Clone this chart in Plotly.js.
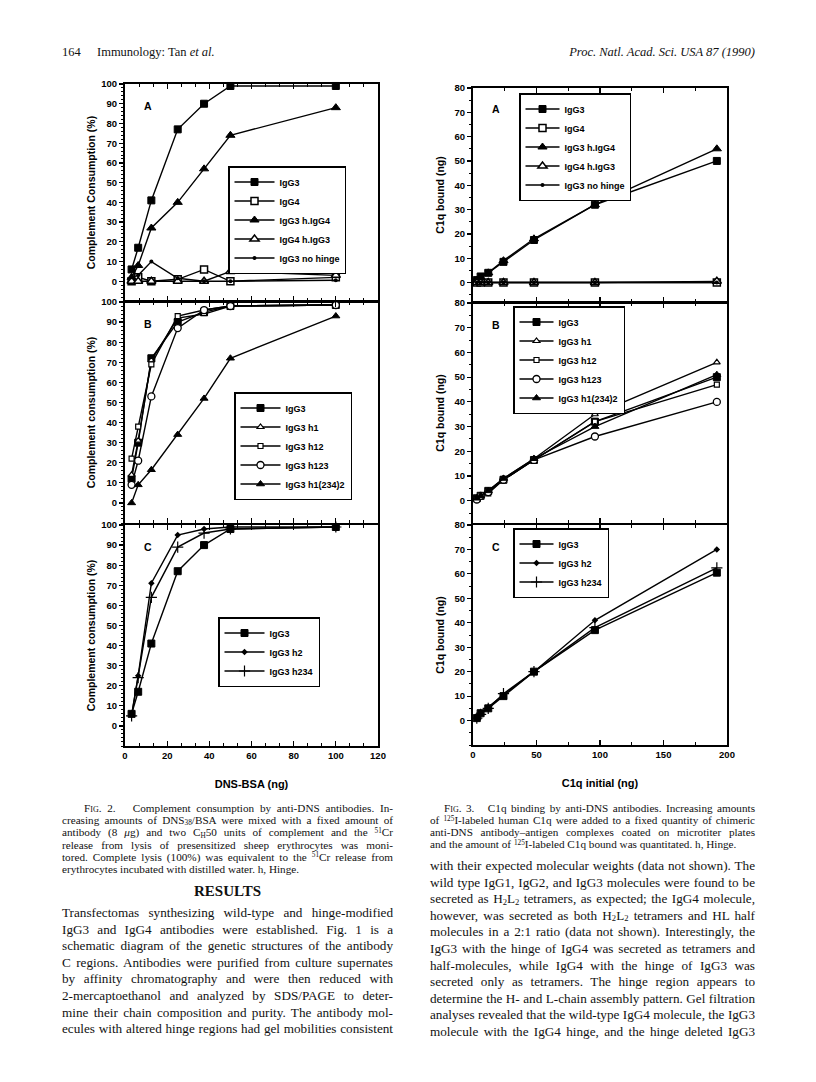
<!DOCTYPE html>
<html><head><meta charset="utf-8">
<script src="https://cdn.plot.ly/plotly-3.0.1.min.js"></script>
<style>
html,body{margin:0;padding:0;background:#fff;}
#page{position:relative;width:816px;height:1082px;overflow:hidden;background:#fff;}
#plot{position:absolute;left:0;top:0;width:816px;height:1082px;}
.t{position:absolute;font-family:"Liberation Serif","Times New Roman",serif;color:#111;white-space:nowrap;z-index:5;}
.ln{display:block;text-align:justify;text-align-last:justify;white-space:normal;}
.ll{display:block;text-align:left;}
.cap{font-size:11.2px;line-height:12px;}
.body{font-size:13.2px;line-height:16.6px;}
.sc{font-variant:small-caps;}
sub,sup{font-size:65%;line-height:1;vertical-align:baseline;position:relative;}
sup{top:-0.45em;}
sub{top:0.2em;}
</style></head>
<body><div id="page"><div id="plot"></div>
<div class="t" style="left:62px;top:45px;font-size:12.5px;">164</div>
<div class="t" style="left:97px;top:45px;font-size:12.5px;">Immunology: Tan <i>et al.</i></div>
<div class="t" style="left:497px;top:45px;font-size:12.5px;width:258px;text-align:right;"><i>Proc. Natl. Acad. Sci. USA 87 (1990)</i></div>

<div class="t cap" style="left:62px;top:802px;width:331px;">
<span class="ln" style="padding-left:22px;"><span class="sc">Fig.</span> 2.&nbsp;&nbsp; Complement consumption by anti-DNS antibodies. In-</span>
<span class="ln">creasing amounts of DNS<sub>38</sub>/BSA were mixed with a fixed amount of</span>
<span class="ln">antibody (8 <i>μ</i>g) and two C<sub>H</sub>50 units of complement and the <sup>51</sup>Cr</span>
<span class="ln">release from lysis of presensitized sheep erythrocytes was moni-</span>
<span class="ln">tored. Complete lysis (100%) was equivalent to the <sup>51</sup>Cr release from</span>
<span class="ll">erythrocytes incubated with distilled water. h, Hinge.</span>
</div>
<div class="t" style="left:62px;top:883px;width:331px;text-align:center;font-size:15px;font-weight:bold;">RESULTS</div>
<div class="t body" style="left:62px;top:905px;width:331px;">
<span class="ln">Transfectomas synthesizing wild-type and hinge-modified</span>
<span class="ln">IgG3 and IgG4 antibodies were established. Fig. 1 is a</span>
<span class="ln">schematic diagram of the genetic structures of the antibody</span>
<span class="ln">C regions. Antibodies were purified from culture supernates</span>
<span class="ln">by affinity chromatography and were then reduced with</span>
<span class="ln">2-mercaptoethanol and analyzed by SDS/PAGE to deter-</span>
<span class="ln">mine their chain composition and purity. The antibody mol-</span>
<span class="ln">ecules with altered hinge regions had gel mobilities consistent</span>
</div>

<div class="t cap" style="left:430px;top:802px;width:325px;">
<span class="ln" style="padding-left:14px;"><span class="sc">Fig.</span> 3.&nbsp;&nbsp; C1q binding by anti-DNS antibodies. Increasing amounts</span>
<span class="ln">of <sup>125</sup>I-labeled human C1q were added to a fixed quantity of chimeric</span>
<span class="ln">anti-DNS antibody–antigen complexes coated on microtiter plates</span>
<span class="ll">and the amount of <sup>125</sup>I-labeled C1q bound was quantitated. h, Hinge.</span>
</div>
<div class="t body" style="left:430px;top:858px;width:325px;">
<span class="ln">with their expected molecular weights (data not shown). The</span>
<span class="ln">wild type IgG1, IgG2, and IgG3 molecules were found to be</span>
<span class="ln">secreted as H<sub>2</sub>L<sub>2</sub> tetramers, as expected; the IgG4 molecule,</span>
<span class="ln">however, was secreted as both H<sub>2</sub>L<sub>2</sub> tetramers and HL half</span>
<span class="ln">molecules in a 2:1 ratio (data not shown). Interestingly, the</span>
<span class="ln">IgG3 with the hinge of IgG4 was secreted as tetramers and</span>
<span class="ln">half-molecules, while IgG4 with the hinge of IgG3 was</span>
<span class="ln">secreted only as tetramers. The hinge region appears to</span>
<span class="ln">determine the H- and L-chain assembly pattern. Gel filtration</span>
<span class="ln">analyses revealed that the wild-type IgG4 molecule, the IgG3</span>
<span class="ln">molecule with the IgG4 hinge, and the hinge deleted IgG3</span>
</div>
</div>
<script>
// ---------- DATA ----------
// Fig. 2 : complement consumption (%) vs DNS-BSA (ng)
var dnsBsa = [3.125, 6.25, 12.5, 25, 37.5, 50, 100];
var f2A_IgG3       = [6, 17, 41, 77, 90, 99, 99];
var f2A_IgG4       = [0, 2, 0, 1, 6, 0, 2];
var f2A_IgG3hIgG4  = [2, 8, 27, 40, 57, 74, 88];
var f2A_IgG4hIgG3  = [0, 0, 0, 0, 0, 5, 3];
var f2A_IgG3noH    = [2, 3, 10, 1.5, 0, 0, 0.5];
var f2B_IgG3       = [12, 30, 72, 90, 95, 98, 98.5];
var f2B_h1         = [14, 31, 71, 92, 94, 98, 98.5];
var f2B_h12        = [22, 38, 69, 93, 96, 98, 98.5];
var f2B_h123       = [9, 21, 53, 87, 96, 98, 98.5];
var f2B_h1_234_2   = [0, 9, 16.5, 34, 52, 72, 93];
var f2C_IgG3       = [6, 17, 41, 77, 90, 98, 99];
var f2C_h2         = [5.5, 25, 71, 95, 98, 99, 99];
var f2C_h234       = [5, 24, 64, 89, 96, 98, 99];
// Fig. 3 : C1q bound (ng) vs C1q initial (ng)
var c1qInitial = [3, 6, 12, 24, 48, 96, 192];
var f3A_IgG3       = [1, 2.5, 4, 8.5, 17.5, 32, 50];
var f3A_IgG4       = [0, 0, 0, 0, 0, 0, 0];
var f3A_IgG3hIgG4  = [1, 2, 4, 9, 18, 32, 55];
var f3A_IgG4hIgG3  = [0, 0, 0, 0, 0, 0, 0.5];
var f3A_IgG3noH    = [0, 0, 0, 0, 0, 0, 0];
var f3B_IgG3       = [1, 2, 4, 8.5, 16.5, 32, 50];
var f3B_h1         = [1, 2, 4, 9, 17, 35, 56];
var f3B_h12        = [1, 2, 3, 8.5, 16.5, 32, 47];
var f3B_h123       = [0.5, 2, 3.5, 8.5, 16.5, 26, 40];
var f3B_h1_234_2   = [1, 2, 4, 9, 17, 30, 51];
var f3C_IgG3       = [1, 3, 5, 10, 20, 37, 60.5];
var f3C_h2         = [1.5, 3, 5.5, 10.5, 20, 41, 70];
var f3C_h234       = [1, 2.5, 5, 11, 20, 38, 62.5];
// names and tick labels
var namesA = ['IgG3', 'IgG4', 'IgG3 h.IgG4', 'IgG4 h.IgG3', 'IgG3 no hinge'];
var namesB = ['IgG3', 'IgG3 h1', 'IgG3 h12', 'IgG3 h123', 'IgG3 h1(234)2'];
var namesC = ['IgG3', 'IgG3 h2', 'IgG3 h234'];
var leftYTicks  = [0, 10, 20, 30, 40, 50, 60, 70, 80, 90, 100];
var rightYTicks = [0, 10, 20, 30, 40, 50, 60, 70, 80];
var leftXTicks  = [0, 20, 40, 60, 80, 100, 120];
var rightXTicks = [0, 50, 100, 150, 200];

// ---------- STYLES ----------
var FONT = '"Liberation Sans", Arial, Helvetica, sans-serif';
var styles = {
  fsq:  {symbol:'square', size:7, color:'black', line:{color:'black', width:1}},
  osq:  {symbol:'square', size:7, color:'white', line:{color:'black', width:1.5}},
  osqS: {symbol:'square', size:5, color:'white', line:{color:'black', width:1.2}},
  ftr:  {symbol:'triangle-up', size:8, color:'black', line:{color:'black', width:1}},
  ftrS: {symbol:'triangle-up', size:7, color:'black', line:{color:'black', width:1}},
  otr:  {symbol:'triangle-up', size:8, color:'white', line:{color:'black', width:1.5}},
  otrS: {symbol:'triangle-up', size:6, color:'white', line:{color:'black', width:1.2}},
  dot:  {symbol:'circle', size:4, color:'black', line:{color:'black', width:0}},
  ocir: {symbol:'circle', size:7, color:'white', line:{color:'black', width:1.3}},
  dia:  {symbol:'diamond', size:5, color:'black', line:{color:'black', width:0}},
  plus: {symbol:'cross-thin', size:8, color:'black', line:{color:'black', width:1.2}}
};
function tr(x, y, name, mk, xa, ya, leg) {
  return {x:x, y:y, name:name, type:'scatter', mode:'lines+markers',
    line:{color:'black', width:1.4}, marker:styles[mk],
    xaxis:xa, yaxis:ya, legend:leg, showlegend:true, cliponaxis:false};
}
var data = [
  tr(dnsBsa, f2A_IgG3, namesA[0], 'fsq', 'x', 'y', 'legend'),
  tr(dnsBsa, f2A_IgG4, namesA[1], 'osq', 'x', 'y', 'legend'),
  tr(dnsBsa, f2A_IgG3hIgG4, namesA[2], 'ftr', 'x', 'y', 'legend'),
  tr(dnsBsa, f2A_IgG4hIgG3, namesA[3], 'otr', 'x', 'y', 'legend'),
  tr(dnsBsa, f2A_IgG3noH, namesA[4], 'dot', 'x', 'y', 'legend'),

  tr(dnsBsa, f2B_IgG3, namesB[0], 'fsq', 'x2', 'y2', 'legend2'),
  tr(dnsBsa, f2B_h1, namesB[1], 'otrS', 'x2', 'y2', 'legend2'),
  tr(dnsBsa, f2B_h12, namesB[2], 'osqS', 'x2', 'y2', 'legend2'),
  tr(dnsBsa, f2B_h123, namesB[3], 'ocir', 'x2', 'y2', 'legend2'),
  tr(dnsBsa, f2B_h1_234_2, namesB[4], 'ftrS', 'x2', 'y2', 'legend2'),

  tr(dnsBsa, f2C_IgG3, namesC[0], 'fsq', 'x3', 'y3', 'legend3'),
  tr(dnsBsa, f2C_h2, namesC[1], 'dia', 'x3', 'y3', 'legend3'),
  tr(dnsBsa, f2C_h234, namesC[2], 'plus', 'x3', 'y3', 'legend3'),

  tr(c1qInitial, f3A_IgG3, namesA[0], 'fsq', 'x4', 'y4', 'legend4'),
  tr(c1qInitial, f3A_IgG4, namesA[1], 'osq', 'x4', 'y4', 'legend4'),
  tr(c1qInitial, f3A_IgG3hIgG4, namesA[2], 'ftr', 'x4', 'y4', 'legend4'),
  tr(c1qInitial, f3A_IgG4hIgG3, namesA[3], 'otr', 'x4', 'y4', 'legend4'),
  tr(c1qInitial, f3A_IgG3noH, namesA[4], 'dot', 'x4', 'y4', 'legend4'),

  tr(c1qInitial, f3B_IgG3, namesB[0], 'fsq', 'x5', 'y5', 'legend5'),
  tr(c1qInitial, f3B_h1, namesB[1], 'otrS', 'x5', 'y5', 'legend5'),
  tr(c1qInitial, f3B_h12, namesB[2], 'osqS', 'x5', 'y5', 'legend5'),
  tr(c1qInitial, f3B_h123, namesB[3], 'ocir', 'x5', 'y5', 'legend5'),
  tr(c1qInitial, f3B_h1_234_2, namesB[4], 'ftrS', 'x5', 'y5', 'legend5'),

  tr(c1qInitial, f3C_IgG3, namesC[0], 'fsq', 'x6', 'y6', 'legend6'),
  tr(c1qInitial, f3C_h2, namesC[1], 'dia', 'x6', 'y6', 'legend6'),
  tr(c1qInitial, f3C_h234, namesC[2], 'plus', 'x6', 'y6', 'legend6')
];

// ---------- LAYOUT ----------
var W = 816, H = 1082;
function px2x(a, b) { return [a / W, b / W]; }
function px2y(top, bot) { return [1 - bot / H, 1 - top / H]; }
var tickFont = {family:FONT, size:9.5, color:'black', weight:'bold'};
var titleFont = {family:FONT, size:10.5, color:'black', weight:'bold'};

function xAx(dom, range, ticks, minorD, showLab, anchor, title) {
  var a = {domain:dom, range:range, anchor:anchor, tickmode:'array', tickvals:ticks,
    showticklabels:showLab, ticks:'inside', ticklen:5, tickwidth:1.2, tickcolor:'black',
    minor:{dtick:minorD, tick0:0, ticks:'inside', ticklen:3, tickwidth:1, tickcolor:'black'},
    showline:true, linewidth:2, linecolor:'black', mirror:'ticks', showgrid:false, zeroline:false,
    tickfont:tickFont, fixedrange:true};
  if (title) a.title = {text:title, font:{family:FONT, size:11, color:'black', weight:'bold'}, standoff:20};
  return a;
}
function yAx(dom, range, ticks, minorD, anchor, title, so) {
  return {domain:dom, range:range, anchor:anchor, tickmode:'array', tickvals:ticks,
    ticks:'outside', ticklen:4, tickwidth:1.2, tickcolor:'black',
    minor:{dtick:minorD, tick0:0, ticks:'outside', ticklen:2.5, tickwidth:1, tickcolor:'black'},
    showline:true, linewidth:2, linecolor:'black', mirror:true, showgrid:false, zeroline:false,
    tickfont:tickFont, fixedrange:true,
    title:{text:title, font:titleFont, standoff:so}};
}
var LX = px2x(125, 378), RX = px2x(473, 727);
function leg(xp, yp, iw) {
  return {x:xp / W, y:1 - yp / H, xanchor:'left', yanchor:'top', xref:'paper', yref:'paper',
    bgcolor:'white', bordercolor:'black', borderwidth:1.5, itemwidth:iw, tracegroupgap:0,
    font:{family:FONT, size:9, color:'black', weight:'bold'}, itemclick:false, itemdoubleclick:false};
}
function letter(t, xa, ya) {
  return {text:'<b>' + t + '</b>', xref:xa + ' domain', yref:ya + ' domain', x:0.09, y:0.9,
    showarrow:false, font:{family:FONT, size:10.5, color:'black'}, xanchor:'center', yanchor:'middle'};
}
var layout = {
  width:W, height:H, margin:{l:0, r:0, t:0, b:0}, paper_bgcolor:'rgba(0,0,0,0)', plot_bgcolor:'white',
  showlegend:true,
  xaxis:  xAx(LX, [0, 120], leftXTicks, 20 / 3, false, 'y'),
  xaxis2: xAx(LX, [0, 120], leftXTicks, 20 / 3, false, 'y2'),
  xaxis3: xAx(LX, [0, 120], leftXTicks, 20 / 3, true, 'y3', 'DNS-BSA (ng)'),
  xaxis4: xAx(RX, [0, 200], rightXTicks, 25, false, 'y4'),
  xaxis5: xAx(RX, [0, 200], rightXTicks, 25, false, 'y5'),
  xaxis6: xAx(RX, [0, 200], rightXTicks, 25, true, 'y6', 'C1q initial (ng)'),
  yaxis:  yAx(px2y(84, 301), [-10, 100], leftYTicks, 2, 'x', 'Complement Consumption (%)', 4),
  yaxis2: yAx(px2y(302, 523), [-10, 100], leftYTicks, 2, 'x2', 'Complement consumption (%)', 4),
  yaxis3: yAx(px2y(525, 746), [-10, 100], leftYTicks, 2, 'x3', 'Complement consumption (%)', 4),
  yaxis4: yAx(px2y(88, 302), [-8, 80], rightYTicks, 5, 'x4', 'C1q bound (ng)', 8),
  yaxis5: yAx(px2y(303, 523), [-9, 80], rightYTicks, 5, 'x5', 'C1q bound (ng)', 8),
  yaxis6: yAx(px2y(525, 745), [-10, 80], rightYTicks, 5, 'x6', 'C1q bound (ng)', 8),
  legend:  leg(228, 166, 40),
  legend2: leg(234, 392, 40),
  legend3: leg(218, 617, 40),
  legend4: leg(519, 93, 34),
  legend5: leg(513, 306, 34),
  legend6: leg(513, 528, 34),
  annotations:[letter('A', 'x', 'y'), letter('B', 'x2', 'y2'), letter('C', 'x3', 'y3'),
               letter('A', 'x4', 'y4'), letter('B', 'x5', 'y5'), letter('C', 'x6', 'y6')]
};
Plotly.newPlot('plot', data, layout, {staticPlot:true, displayModeBar:false});
</script>
</body></html>
